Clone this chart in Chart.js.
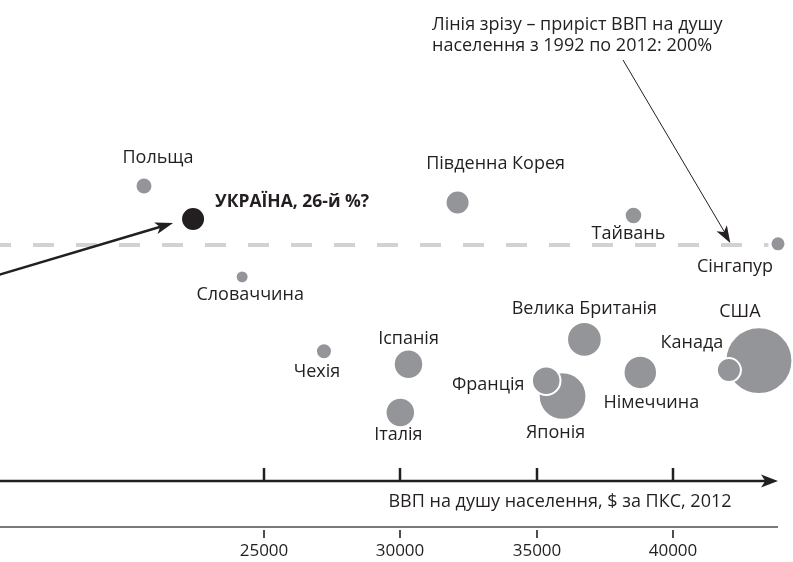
<!DOCTYPE html>
<html lang="uk">
<head>
<meta charset="utf-8">
<title>ВВП на душу населення та приріст</title>
<script src="https://cdn.jsdelivr.net/npm/chart.js@4.4.1/dist/chart.umd.min.js"></script>
<style>
  html, body { margin: 0; padding: 0; background: #fff; }
  canvas { display: block; }
</style>
</head>
<body>
<canvas id="chart" width="793" height="562"></canvas>
<script>
// дані
const countries = ['Польща', 'Словаччина', 'Чехія', 'Іспанія', 'Італія', 'Південна Корея', 'Велика Британія',
                   'Японія', 'Франція', 'Німеччина', 'Тайвань', 'США', 'Канада', 'Сінгапур'];
const gdpPerCapita = [20600, 24200, 27200, 30300, 30000, 32100, 36750, 35950, 35350, 38800, 38550, 43150, 42050, 43850];
const growth = [250, 173, 110, 99, 58, 236, 120, 72, 85, 92, 225, 102, 94, 201];
const economySize = [0.86, 0.46, 0.75, 2.9, 2.9, 1.86, 4.1, 8.0, 2.7, 3.8, 0.93, 16.2, 1.86, 0.65];

const ukraineLabel = 'УКРАЇНА, 26-й %?';
const ukraineGdp = [22400];
const ukraineGrowth = [222];
const ukraineSize = [1.86];

const cutoffGrowth = 200;
const xTicks = [25000, 30000, 35000, 40000];
const axisTitle = 'ВВП на душу населення, $ за ПКС, 2012';
const cutoffNote = ['Лінія зрізу – приріст ВВП на душу', 'населення з 1992 по 2012: 200%'];

const ink = '#231f20';
const bubbleGray = '#939598';
const fontFamily = '"Open Sans", "Noto Sans", sans-serif';

// зсув підпису від центру бульбашки: [dx, dy, вирівнювання]
const labelOffsets = {
    'Польща': [14, -28, 'center'],
    'Словаччина': [8, 18, 'center'],
    'Чехія': [-7, 21, 'center'],
    'Іспанія': [0, -25, 'center'],
    'Італія': [-2, 22, 'center'],
    'Південна Корея': [38, -39, 'center'],
    'Велика Британія': [0, -31, 'center'],
    'Японія': [-7, 37, 'center'],
    'Франція': [-58, 4, 'center'],
    'Німеччина': [11, 30, 'center'],
    'Тайвань': [-5, 18, 'center'],
    'США': [-19, -49, 'center'],
    'Канада': [-37, -27, 'center'],
    'Сінгапур': [-43, 23, 'center']
};

function bubbleRadius(size) {
    return 1 + 8.07 * Math.sqrt(size);
}

function arrowHead(ctx, fromX, fromY, toX, toY, len, half) {
    const a = Math.atan2(toY - fromY, toX - fromX);
    ctx.beginPath();
    ctx.moveTo(toX, toY);
    ctx.lineTo(toX - len * Math.cos(a) + half * Math.sin(a), toY - len * Math.sin(a) - half * Math.cos(a));
    ctx.lineTo(toX - len * Math.cos(a) * 0.75, toY - len * Math.sin(a) * 0.75);
    ctx.lineTo(toX - len * Math.cos(a) - half * Math.sin(a), toY - len * Math.sin(a) + half * Math.cos(a));
    ctx.closePath();
    ctx.fill();
}

const decorPlugin = {
    id: 'decor',
    beforeDatasetsDraw(chart) {
        const ctx = chart.ctx;
        const area = chart.chartArea;
        const yCut = chart.scales.y.getPixelForValue(cutoffGrowth);
        ctx.save();
        ctx.strokeStyle = '#d1d2d4';
        ctx.lineWidth = 4;
        ctx.setLineDash([21, 22]);
        ctx.beginPath();
        ctx.moveTo(area.left - 10, yCut);
        ctx.lineTo(chart.scales.x.getPixelForValue(43500), yCut);
        ctx.stroke();
        ctx.restore();
    },
    afterDatasetsDraw(chart) {
        const ctx = chart.ctx;
        const area = chart.chartArea;
        const xs = chart.scales.x;
        const ys = chart.scales.y;
        ctx.save();
        ctx.fillStyle = ink;
        ctx.strokeStyle = ink;

        // підписи країн
        ctx.font = '18px ' + fontFamily;
        ctx.textBaseline = 'middle';
        const meta = chart.getDatasetMeta(0);
        countries.forEach((name, i) => {
            const pt = meta.data[i];
            const off = labelOffsets[name];
            ctx.textAlign = off[2];
            ctx.fillText(name, pt.x + off[0], pt.y + off[1]);
        });

        // Україна
        const ua = chart.getDatasetMeta(1).data[0];
        ctx.font = 'bold 17.5px ' + fontFamily;
        ctx.textAlign = 'left';
        ctx.fillText(ukraineLabel, ua.x + 22, ua.y - 17);

        // стрілка до України
        ctx.lineWidth = 2.5;
        const tipX = ua.x - 20, tipY = ua.y + 4;
        const startX = area.left - 5, startY = tipY + 53;
        ctx.beginPath();
        ctx.moveTo(startX, startY);
        ctx.lineTo(tipX - 10, tipY + 3);
        ctx.stroke();
        arrowHead(ctx, startX, startY, tipX, tipY, 18, 6);

        // примітка про лінію зрізу
        ctx.font = '18px ' + fontFamily;
        ctx.textAlign = 'left';
        ctx.fillText(cutoffNote[0], 432, 25);
        ctx.fillText(cutoffNote[1], 432, 46);
        const noteTipX = xs.getPixelForValue(42100);
        const noteTipY = ys.getPixelForValue(cutoffGrowth) - 2;
        ctx.lineWidth = 1;
        ctx.beginPath();
        ctx.moveTo(623, 60);
        ctx.lineTo(noteTipX - 4, noteTipY - 8);
        ctx.stroke();
        arrowHead(ctx, 623, 60, noteTipX, noteTipY, 17, 6);

        // основна вісь зі стрілкою
        const axisY = area.bottom;
        const axisEnd = 778;
        ctx.lineWidth = 2.5;
        ctx.beginPath();
        ctx.moveTo(area.left, axisY);
        ctx.lineTo(axisEnd - 10, axisY);
        ctx.stroke();
        arrowHead(ctx, area.left, axisY, axisEnd, axisY, 17, 6.5);
        xTicks.forEach(v => {
            const px = Math.round(xs.getPixelForValue(v));
            ctx.beginPath();
            ctx.moveTo(px, axisY - 13);
            ctx.lineTo(px, axisY);
            ctx.stroke();
        });

        // назва осі
        ctx.font = '18px ' + fontFamily;
        ctx.textAlign = 'center';
        ctx.fillText(axisTitle, 560, axisY + 21);

        // нижня шкала
        const baseY = axisY + 46;
        ctx.strokeStyle = '#4d4d4f';
        ctx.lineWidth = 1.5;
        ctx.beginPath();
        ctx.moveTo(area.left, baseY);
        ctx.lineTo(axisEnd, baseY);
        ctx.stroke();
        ctx.lineWidth = 2;
        ctx.font = '17px ' + fontFamily;
        xTicks.forEach(v => {
            const px = Math.round(xs.getPixelForValue(v));
            ctx.beginPath();
            ctx.moveTo(px, baseY + 3);
            ctx.lineTo(px, baseY + 11);
            ctx.stroke();
            ctx.fillText(String(v), px, baseY + 24);
        });
        ctx.restore();
    }
};

const ctx = document.getElementById('chart').getContext('2d');
new Chart(ctx, {
    type: 'bubble',
    data: {
        datasets: [{
            label: 'Країни',
            data: countries.map((c, i) => ({ x: gdpPerCapita[i], y: growth[i], r: bubbleRadius(economySize[i]) })),
            backgroundColor: bubbleGray,
            borderColor: '#ffffff',
            borderWidth: 2,
            clip: false
        }, {
            label: 'Україна',
            data: ukraineGdp.map((x, i) => ({ x: x, y: ukraineGrowth[i], r: bubbleRadius(ukraineSize[i]) })),
            backgroundColor: ink,
            borderColor: '#ffffff',
            borderWidth: 2,
            clip: false
        }]
    },
    options: {
        responsive: false,
        animation: false,
        events: [],
        layout: { autoPadding: false, padding: { top: 9, bottom: 81, left: 0, right: 0 } },
        plugins: { legend: { display: false }, tooltip: { enabled: false } },
        scales: {
            x: { type: 'linear', min: 15320, max: 44400, display: false },
            y: { type: 'linear', min: 0, max: 400, display: false }
        }
    },
    plugins: [decorPlugin]
});
</script>
</body>
</html>
